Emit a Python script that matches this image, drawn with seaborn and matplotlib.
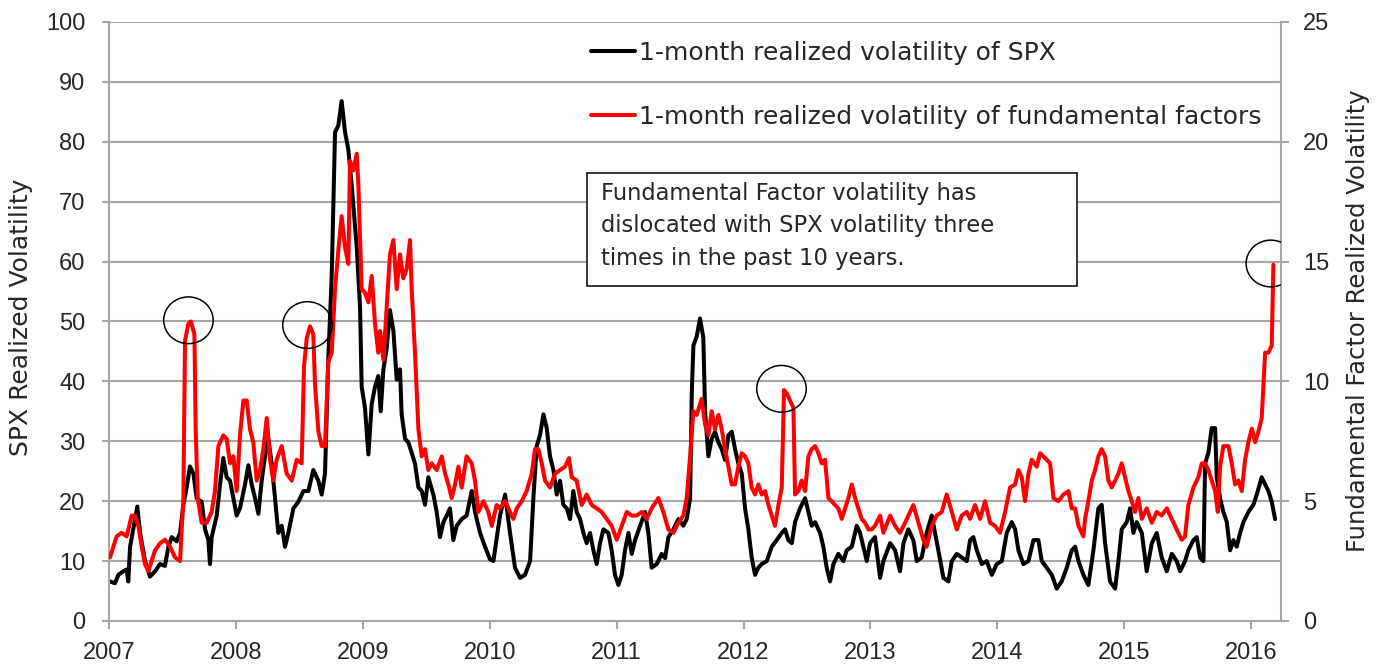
import numpy as np
import matplotlib
matplotlib.use("Agg")
import matplotlib.pyplot as plt
import seaborn as sns
from matplotlib.patches import Ellipse, Rectangle

# 1-month realized volatility of SPX (left axis)
spx_years = [
    2007.008, 2007.047, 2007.074, 2007.113, 2007.139, 2007.152, 2007.166, 2007.223, 2007.245, 2007.284,
    2007.323, 2007.363, 2007.402, 2007.441, 2007.468, 2007.494, 2007.533, 2007.560, 2007.586, 2007.612,
    2007.638, 2007.665, 2007.691, 2007.730, 2007.757, 2007.783, 2007.796, 2007.809, 2007.849, 2007.875,
    2007.901, 2007.927, 2007.954, 2007.980, 2008.006, 2008.032, 2008.072, 2008.098, 2008.124, 2008.151,
    2008.177, 2008.203, 2008.229, 2008.256, 2008.282, 2008.308, 2008.334, 2008.361, 2008.387, 2008.413,
    2008.453, 2008.492, 2008.532, 2008.571, 2008.610, 2008.650, 2008.676, 2008.702, 2008.728, 2008.755,
    2008.781, 2008.807, 2008.833, 2008.860, 2008.886, 2008.912, 2008.925, 2008.952, 2008.978, 2008.991,
    2009.017, 2009.044, 2009.070, 2009.096, 2009.122, 2009.141, 2009.162, 2009.188, 2009.214, 2009.241,
    2009.267, 2009.293, 2009.306, 2009.333, 2009.359, 2009.385, 2009.411, 2009.438, 2009.464, 2009.490,
    2009.516, 2009.556, 2009.582, 2009.608, 2009.635, 2009.661, 2009.687, 2009.713, 2009.740, 2009.779,
    2009.818, 2009.858, 2009.884, 2009.924, 2009.963, 2010.002, 2010.029, 2010.081, 2010.121, 2010.160,
    2010.199, 2010.239, 2010.278, 2010.318, 2010.344, 2010.370, 2010.396, 2010.423, 2010.449, 2010.475,
    2010.502, 2010.528, 2010.554, 2010.580, 2010.607, 2010.633, 2010.659, 2010.685, 2010.712, 2010.738,
    2010.764, 2010.790, 2010.817, 2010.843, 2010.869, 2010.896, 2010.935, 2010.961, 2010.987, 2011.014,
    2011.040, 2011.066, 2011.093, 2011.119, 2011.145, 2011.185, 2011.224, 2011.250, 2011.276, 2011.316,
    2011.355, 2011.382, 2011.408, 2011.447, 2011.487, 2011.526, 2011.552, 2011.579, 2011.592, 2011.605,
    2011.631, 2011.657, 2011.683, 2011.697, 2011.723, 2011.749, 2011.775, 2011.802, 2011.828, 2011.854,
    2011.881, 2011.907, 2011.933, 2011.959, 2011.986, 2012.012, 2012.038, 2012.064, 2012.091, 2012.117,
    2012.143, 2012.183, 2012.222, 2012.261, 2012.301, 2012.327, 2012.353, 2012.380, 2012.406, 2012.445,
    2012.485, 2012.511, 2012.537, 2012.564, 2012.603, 2012.629, 2012.655, 2012.682, 2012.708, 2012.747,
    2012.787, 2012.813, 2012.853, 2012.892, 2012.918, 2012.944, 2012.971, 2012.997, 2013.036, 2013.076,
    2013.102, 2013.155, 2013.194, 2013.233, 2013.260, 2013.299, 2013.338, 2013.365, 2013.404, 2013.443,
    2013.483, 2013.509, 2013.535, 2013.575, 2013.614, 2013.641, 2013.680, 2013.719, 2013.759, 2013.785,
    2013.811, 2013.838, 2013.877, 2013.916, 2013.956, 2013.995, 2014.035, 2014.074, 2014.113, 2014.140,
    2014.166, 2014.205, 2014.245, 2014.284, 2014.323, 2014.350, 2014.389, 2014.429, 2014.468, 2014.507,
    2014.547, 2014.586, 2014.613, 2014.639, 2014.678, 2014.717, 2014.757, 2014.796, 2014.822, 2014.849,
    2014.888, 2014.928, 2014.954, 2014.980, 2015.019, 2015.046, 2015.072, 2015.098, 2015.138, 2015.177,
    2015.217, 2015.256, 2015.295, 2015.335, 2015.374, 2015.413, 2015.440, 2015.479, 2015.505, 2015.545,
    2015.571, 2015.597, 2015.624, 2015.637, 2015.663, 2015.689, 2015.716, 2015.729, 2015.755, 2015.781,
    2015.808, 2015.834, 2015.860, 2015.886, 2015.913, 2015.939, 2015.978, 2016.018, 2016.044, 2016.083,
    2016.110, 2016.136, 2016.162, 2016.189,
]
spx_vol = [
    6.6, 6.3, 7.7, 8.3, 8.6, 6.6, 12.4, 19.1, 14.7, 10.0,
    7.4, 8.3, 9.5, 9.2, 12.4, 14.0, 13.3, 14.7, 19.4, 22.3,
    25.8, 24.6, 20.5, 19.9, 15.3, 13.5, 9.5, 14.0, 17.6, 22.8,
    27.2, 24.0, 23.4, 20.5, 17.6, 18.8, 22.8, 26.0, 22.8, 20.5,
    17.9, 23.4, 27.5, 30.4, 26.3, 20.5, 14.7, 15.9, 12.4, 14.7,
    18.8, 19.9, 21.7, 21.7, 25.2, 23.4, 21.1, 24.6, 43.8, 57.7,
    81.6, 82.7, 86.8, 81.6, 78.7, 72.8, 69.4, 62.4, 52.5, 39.1,
    35.6, 27.8, 36.2, 39.1, 40.9, 35.0, 42.0, 45.5, 51.9, 48.4,
    40.3, 42.0, 34.5, 30.4, 29.8, 28.1, 26.3, 22.3, 21.7, 19.4,
    24.0, 21.1, 18.2, 14.0, 16.5, 17.6, 18.8, 13.5, 15.9, 17.0,
    17.6, 21.7, 18.2, 14.7, 12.4, 10.3, 10.0, 17.6, 21.1, 14.7,
    8.9, 7.2, 7.7, 10.0, 20.5, 29.2, 31.0, 34.5, 32.2, 27.5,
    25.2, 21.1, 23.4, 19.4, 18.8, 17.0, 21.7, 18.2, 17.0, 14.7,
    13.0, 14.7, 11.8, 9.5, 13.0, 15.3, 14.7, 11.8, 7.7, 6.0,
    7.7, 11.8, 14.7, 11.2, 13.5, 15.9, 18.2, 14.7, 8.9, 9.5,
    11.2, 10.5, 14.0, 15.3, 17.0, 15.9, 17.0, 20.5, 38.0, 46.0,
    47.5, 50.5, 47.3, 35.0, 27.5, 30.4, 31.6, 29.8, 28.7, 26.9,
    31.0, 31.6, 28.7, 26.3, 24.6, 18.8, 15.3, 10.6, 7.7, 8.9,
    9.5, 10.0, 12.4, 13.5, 14.7, 15.3, 13.5, 13.0, 16.5, 18.8,
    20.5, 18.2, 15.9, 16.5, 14.7, 12.4, 8.9, 6.6, 9.5, 11.2,
    10.0, 11.8, 12.4, 15.9, 14.7, 12.4, 10.0, 13.0, 14.0, 7.2,
    10.0, 13.0, 11.8, 8.3, 13.0, 15.3, 13.5, 10.0, 10.6, 14.7,
    17.6, 14.7, 11.8, 7.2, 6.6, 10.0, 11.2, 10.6, 10.0, 13.5,
    14.0, 11.8, 9.5, 10.0, 7.7, 9.5, 10.0, 14.7, 16.5, 15.3,
    11.8, 9.5, 10.0, 13.5, 13.5, 10.0, 8.9, 7.7, 5.4, 6.6,
    8.9, 11.8, 12.4, 10.0, 7.7, 6.0, 11.8, 18.8, 19.4, 13.0,
    6.6, 5.4, 10.0, 15.3, 16.5, 18.8, 14.7, 16.5, 14.7, 8.3,
    13.0, 14.7, 10.6, 8.3, 11.2, 10.0, 8.3, 10.0, 11.8, 13.5,
    14.0, 10.6, 10.0, 26.3, 28.1, 32.2, 32.2, 24.0, 20.5, 18.2,
    16.5, 11.8, 13.5, 12.4, 14.7, 16.5, 18.2, 19.4, 21.1, 24.0,
    22.8, 21.7, 19.9, 17.0,
]

# 1-month realized volatility of fundamental factors (right axis)
fac_years = [
    2007.008, 2007.034, 2007.060, 2007.100, 2007.139, 2007.179, 2007.205, 2007.231, 2007.258, 2007.284,
    2007.310, 2007.336, 2007.363, 2007.402, 2007.441, 2007.481, 2007.520, 2007.560, 2007.586, 2007.599,
    2007.625, 2007.646, 2007.673, 2007.683, 2007.699, 2007.730, 2007.770, 2007.809, 2007.835, 2007.862,
    2007.901, 2007.927, 2007.954, 2007.980, 2008.006, 2008.032, 2008.059, 2008.085, 2008.111, 2008.137,
    2008.164, 2008.190, 2008.216, 2008.243, 2008.269, 2008.295, 2008.321, 2008.361, 2008.400, 2008.440,
    2008.479, 2008.518, 2008.537, 2008.558, 2008.584, 2008.610, 2008.623, 2008.650, 2008.676, 2008.702,
    2008.728, 2008.755, 2008.781, 2008.807, 2008.833, 2008.860, 2008.886, 2008.899, 2008.925, 2008.952,
    2008.965, 2008.991, 2009.017, 2009.044, 2009.070, 2009.096, 2009.122, 2009.136, 2009.162, 2009.188,
    2009.214, 2009.241, 2009.267, 2009.293, 2009.319, 2009.346, 2009.372, 2009.385, 2009.411, 2009.438,
    2009.464, 2009.490, 2009.516, 2009.543, 2009.582, 2009.622, 2009.648, 2009.674, 2009.700, 2009.727,
    2009.753, 2009.779, 2009.818, 2009.858, 2009.884, 2009.910, 2009.950, 2009.989, 2010.016, 2010.055,
    2010.081, 2010.121, 2010.160, 2010.186, 2010.213, 2010.252, 2010.291, 2010.331, 2010.357, 2010.383,
    2010.410, 2010.436, 2010.475, 2010.515, 2010.554, 2010.593, 2010.625, 2010.646, 2010.685, 2010.725,
    2010.764, 2010.804, 2010.843, 2010.882, 2010.922, 2010.961, 2011.001, 2011.040, 2011.080, 2011.119,
    2011.158, 2011.198, 2011.237, 2011.276, 2011.329, 2011.368, 2011.408, 2011.447, 2011.487, 2011.526,
    2011.552, 2011.579, 2011.605, 2011.631, 2011.670, 2011.697, 2011.723, 2011.749, 2011.775, 2011.802,
    2011.828, 2011.854, 2011.881, 2011.907, 2011.933, 2011.959, 2011.986, 2012.012, 2012.038, 2012.064,
    2012.091, 2012.117, 2012.143, 2012.170, 2012.196, 2012.222, 2012.248, 2012.275, 2012.301, 2012.319,
    2012.340, 2012.366, 2012.393, 2012.406, 2012.432, 2012.458, 2012.485, 2012.511, 2012.537, 2012.564,
    2012.590, 2012.616, 2012.642, 2012.669, 2012.695, 2012.721, 2012.747, 2012.774, 2012.800, 2012.826,
    2012.853, 2012.879, 2012.905, 2012.931, 2012.958, 2012.984, 2013.010, 2013.036, 2013.076, 2013.102,
    2013.155, 2013.194, 2013.233, 2013.273, 2013.312, 2013.338, 2013.378, 2013.417, 2013.443, 2013.483,
    2013.522, 2013.562, 2013.601, 2013.641, 2013.680, 2013.719, 2013.759, 2013.785, 2013.824, 2013.864,
    2013.903, 2013.943, 2013.982, 2014.021, 2014.061, 2014.100, 2014.140, 2014.166, 2014.192, 2014.218,
    2014.245, 2014.271, 2014.310, 2014.337, 2014.363, 2014.389, 2014.416, 2014.442, 2014.481, 2014.521,
    2014.560, 2014.586, 2014.613, 2014.639, 2014.678, 2014.691, 2014.717, 2014.744, 2014.770, 2014.796,
    2014.822, 2014.849, 2014.875, 2014.901, 2014.928, 2014.954, 2014.980, 2015.006, 2015.033, 2015.059,
    2015.085, 2015.111, 2015.138, 2015.177, 2015.217, 2015.256, 2015.295, 2015.335, 2015.374, 2015.413,
    2015.453, 2015.479, 2015.505, 2015.545, 2015.584, 2015.611, 2015.637, 2015.663, 2015.689, 2015.716,
    2015.737, 2015.755, 2015.781, 2015.821, 2015.847, 2015.873, 2015.899, 2015.926, 2015.952, 2015.978,
    2016.005, 2016.031, 2016.057, 2016.083, 2016.110, 2016.136, 2016.162, 2016.175,
]
fac_vol = [
    2.66, 3.10, 3.53, 3.68, 3.53, 4.40, 4.40, 3.97, 3.10, 2.37,
    2.08, 2.50, 2.95, 3.24, 3.39, 3.10, 2.66, 2.50, 5.13, 11.70,
    12.40, 12.50, 11.96, 8.00, 5.13, 4.10, 4.10, 4.55, 5.42, 7.30,
    7.75, 7.60, 6.58, 6.87, 5.42, 7.75, 9.20, 9.20, 8.00, 7.46,
    5.86, 6.30, 7.17, 8.47, 6.73, 5.86, 6.73, 7.30, 6.15, 5.86,
    6.73, 6.58, 10.65, 11.80, 12.30, 11.96, 9.90, 7.90, 7.30, 7.30,
    10.80, 11.20, 13.85, 15.45, 16.90, 15.60, 14.90, 19.20, 18.80, 19.50,
    18.20, 13.85, 13.70, 13.30, 14.40, 12.40, 11.20, 12.10, 10.90, 13.10,
    15.30, 15.90, 13.85, 15.30, 14.30, 14.70, 15.90, 13.85, 11.20, 8.00,
    6.87, 7.17, 6.30, 6.58, 6.30, 6.87, 6.15, 5.70, 5.13, 5.70,
    6.44, 5.57, 6.87, 6.58, 5.86, 4.55, 5.00, 4.55, 3.97, 4.84,
    4.70, 5.00, 4.55, 4.26, 4.70, 5.00, 5.42, 6.15, 7.17, 7.17,
    6.58, 5.86, 5.57, 6.15, 6.30, 6.44, 6.80, 6.00, 5.86, 4.84,
    5.28, 4.84, 4.70, 4.55, 4.26, 3.97, 3.39, 3.97, 4.55, 4.40,
    4.40, 4.55, 4.26, 4.70, 5.13, 4.55, 3.82, 3.68, 4.10, 4.40,
    5.13, 6.87, 8.76, 8.60, 9.27, 8.20, 7.75, 8.76, 8.00, 8.60,
    8.00, 7.17, 6.44, 5.70, 5.70, 6.44, 7.00, 6.87, 6.58, 5.57,
    5.28, 5.70, 5.28, 5.42, 4.84, 4.40, 3.97, 4.84, 5.57, 9.64,
    9.50, 9.20, 8.90, 5.28, 5.42, 5.86, 5.42, 6.87, 7.17, 7.30,
    7.00, 6.58, 6.73, 5.13, 5.00, 4.84, 4.70, 4.26, 4.70, 5.13,
    5.70, 5.13, 4.70, 4.26, 4.10, 3.82, 3.82, 3.97, 4.40, 3.68,
    4.40, 3.97, 3.68, 4.10, 4.55, 4.84, 4.10, 3.39, 3.10, 3.97,
    4.40, 4.55, 5.28, 4.55, 3.82, 4.40, 4.55, 4.26, 4.84, 4.26,
    5.00, 4.10, 3.97, 3.68, 4.55, 5.57, 5.70, 6.30, 6.00, 5.00,
    6.15, 6.73, 6.44, 7.00, 6.87, 6.73, 6.58, 5.13, 5.00, 5.28,
    5.42, 4.70, 4.70, 3.97, 3.53, 4.26, 5.00, 5.86, 6.30, 6.87,
    7.17, 6.87, 5.86, 5.57, 5.86, 6.15, 6.58, 6.00, 5.42, 5.00,
    4.55, 5.13, 4.26, 4.70, 4.10, 4.55, 4.40, 4.70, 4.26, 3.82,
    3.39, 3.53, 4.84, 5.57, 6.00, 6.58, 6.58, 6.30, 5.86, 5.42,
    4.55, 6.44, 7.30, 7.30, 6.58, 5.70, 5.86, 5.42, 6.73, 7.46,
    8.03, 7.46, 7.90, 8.47, 11.20, 11.20, 11.50, 14.87,
]

year_ticks = list(range(2007, 2017))
spx_ticks = list(range(0, 101, 10))
fac_ticks = list(range(0, 26, 5))

# windows where factor vol dislocated from SPX vol (circled peaks)
circled_windows = [(2007.55, 2007.75), (2008.5, 2008.65), (2012.25, 2012.45), (2016.1, 2016.3)]

spx_label = "1-month realized volatility of SPX"
fac_label = "1-month realized volatility of fundamental factors"
note = ("Fundamental Factor volatility has\n"
        "dislocated with SPX volatility three\n"
        "times in the past 10 years.")

sns.set_theme(style="white")
plt.rcParams['font.family'] = ['DejaVu Sans']

grid_grey = '#a6a6a6'

fig = plt.figure(figsize=(13.85, 6.66), dpi=100)
ax = fig.add_axes([0.0787, 0.0676, 0.8463, 0.8994])
ax2 = ax.twinx()

sns.lineplot(x=spx_years, y=spx_vol, ax=ax, color='black', linewidth=2.9, legend=False)
sns.lineplot(x=fac_years, y=fac_vol, ax=ax2, color='#ff0000', linewidth=2.9, legend=False)

ax.set_xlim(2007, 2016.236)
ax.set_ylim(0, 100)
ax2.set_ylim(0, 25)
ax.set_xticks(year_ticks)
ax.set_xticklabels([str(y) for y in year_ticks])
ax.set_yticks(spx_ticks)
ax2.set_yticks(fac_ticks)

ax.yaxis.grid(True, color=grid_grey, linewidth=1.5)
ax.xaxis.grid(False)
ax2.grid(False)
ax.set_axisbelow(True)

for a in (ax, ax2):
    for side in a.spines:
        a.spines[side].set_visible(False)
ax.spines['left'].set_visible(True)
ax.spines['bottom'].set_visible(True)
ax2.spines['right'].set_visible(True)
for sp in (ax.spines['left'], ax.spines['bottom'], ax2.spines['right']):
    sp.set_color(grid_grey)
    sp.set_linewidth(1.5)

ax.tick_params(axis='y', direction='out', length=5, width=1.5, color=grid_grey,
               labelsize=17, pad=12, left=True)
ax.tick_params(axis='x', direction='out', length=6, width=1.5, color=grid_grey,
               labelsize=17, pad=9, bottom=True)
ax2.tick_params(axis='y', direction='out', length=6, width=1.5, color=grid_grey,
                labelsize=17, pad=10, right=True)
for lbl in ax.get_xticklabels() + ax.get_yticklabels() + ax2.get_yticklabels():
    lbl.set_fontfamily('Liberation Sans')

ax.set_ylabel('')
ax2.set_ylabel('')
fig.text(0.0152, 0.524, 'SPX Realized Volatility', rotation=90, ha='center', va='center', fontsize=18)
fig.text(0.9805, 0.518, 'Fundamental Factor Realized Volatility', rotation=90, ha='center',
         va='center', fontsize=17.5)

# circles around the factor-vol peaks
fy = np.array(fac_years)
fv = np.array(fac_vol)
for lo, hi in circled_windows:
    m = (fy >= lo) & (fy <= hi)
    i = np.argmax(np.where(m, fv, -1))
    ax2.add_patch(Ellipse((fy[i] - 0.02, fv[i] + 0.05), width=0.39, height=1.95, fill=False,
                          edgecolor='black', linewidth=1.1, zorder=6))

leg = ax2.legend([ax.lines[0], ax2.lines[0]], [spx_label, fac_label], loc='upper left',
                 bbox_to_anchor=(0.427, 0.939), bbox_transform=fig.transFigure, frameon=False,
                 fontsize=18, handlelength=1.75, handletextpad=0.15, labelspacing=1.6,
                 borderpad=0, borderaxespad=0)

ax2.add_patch(Rectangle((0.4238, 0.5706), 0.3538, 0.1697, transform=fig.transFigure,
                        facecolor='white', edgecolor='black', linewidth=1.1, zorder=7))
ax2.text(0.4339, 0.6607, note, transform=fig.transFigure, ha='left', va='center',
         fontsize=16.3, linespacing=1.55, zorder=8)

fig.savefig('out.png', dpi=100)
